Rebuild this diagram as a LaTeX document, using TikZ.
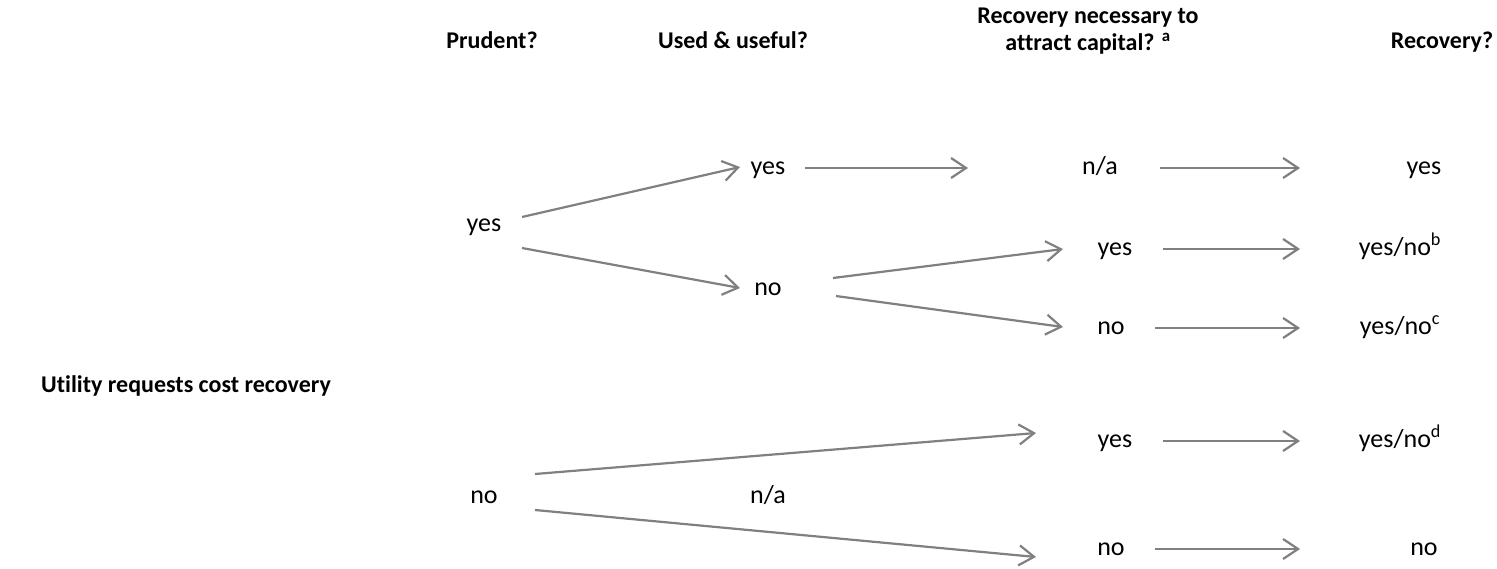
\documentclass[tikz,border=0pt]{standalone}
\usepackage{fontspec}
\setmainfont[Ligatures=NoCommon]{Carlito}
\usetikzlibrary{arrows.meta}
\begin{document}
\begin{tikzpicture}[x=1pt,y=-1pt,
		Head/.style={font=\fontsize{24}{27}\selectfont\bfseries,inner sep=0pt,align=center},
		Answer/.style={font=\fontsize{26}{31}\selectfont,inner sep=0pt,anchor=base},
		Arr/.style={-{Straight Barb[length=15pt,width=20pt]},draw=gray,line width=2.2pt}]
				\useasboundingbox (0,0) rectangle (1497,568);
				% Cost recovery decision tree
				\node[Head,anchor=base] (Prudent) at (492,48) {Prudent?};
				\node[Head,anchor=base] (UsedUseful) at (733,48) {Used \& useful?};
				\node[Head] (Capital) at (1088,31) {Recovery necessary to\\attract capital? \textsuperscript{a}};
				\node[Head,anchor=base] (Recovery) at (1442,48) {Recovery?};
				\node[Head,anchor=base] (Utility) at (186,392) {Utility requests cost recovery};
				
				\node[Answer] (PYes) at (484,231) {yes};
				\node[Answer] (PNo) at (484,503) {no};
				\node[Answer] (UYes) at (768,174) {yes};
				\node[Answer] (UNo) at (768,295) {no};
				\node[Answer] (UNa) at (768,503) {n/a};
				\node[Answer] (CNa) at (1100,174) {n/a};
				\node[Answer] (CYes) at (1115,255) {yes};
				\node[Answer] (CNo) at (1111,334) {no};
				\node[Answer] (CYesD) at (1115,447) {yes};
				\node[Answer] (CNoE) at (1111,555) {no};
				\node[Answer] (RYes) at (1424,174) {yes};
				\node[Answer] (RB) at (1400,255) {yes/no\textsuperscript{b}};
				\node[Answer] (RC) at (1400,334) {yes/no\textsuperscript{c}};
				\node[Answer] (RD) at (1400,447) {yes/no\textsuperscript{d}};
				\node[Answer] (RNo) at (1424,555) {no};
				
				\draw[Arr] ([shift={(38,-14)}]PYes.base) -- ([shift={(-28,-7)}]UYes.base);
				\draw[Arr] ([shift={(38,17)}]PYes.base) -- ([shift={(-28,-7)}]UNo.base);
				\draw[Arr] ([shift={(37,-6)}]UYes.base) -- ([shift={(-132,-6)}]CNa.base);
				\draw[Arr] ([shift={(60,-6)}]CNa.base) -- ([shift={(-124,-6)}]RYes.base);
				\draw[Arr] ([shift={(65,-17)}]UNo.base) -- ([shift={(-52,-6)}]CYes.base);
				\draw[Arr] ([shift={(68,1)}]UNo.base) -- ([shift={(-48,-7)}]CNo.base);
				\draw[Arr] ([shift={(48,-6)}]CYes.base) -- ([shift={(-100,-6)}]RB.base);
				\draw[Arr] ([shift={(44,-6)}]CNo.base) -- ([shift={(-100,-6)}]RC.base);
				\draw[Arr] ([shift={(51,-29)}]PNo.base) -- ([shift={(-79,-14)}]CYesD.base);
				\draw[Arr] ([shift={(51,7)}]PNo.base) -- ([shift={(-75,2)}]CNoE.base);
				\draw[Arr] ([shift={(48,-6)}]CYesD.base) -- ([shift={(-100,-6)}]RD.base);
				\draw[Arr] ([shift={(44,-6)}]CNoE.base) -- ([shift={(-124,-6)}]RNo.base);
				
\end{tikzpicture}
\end{document}
